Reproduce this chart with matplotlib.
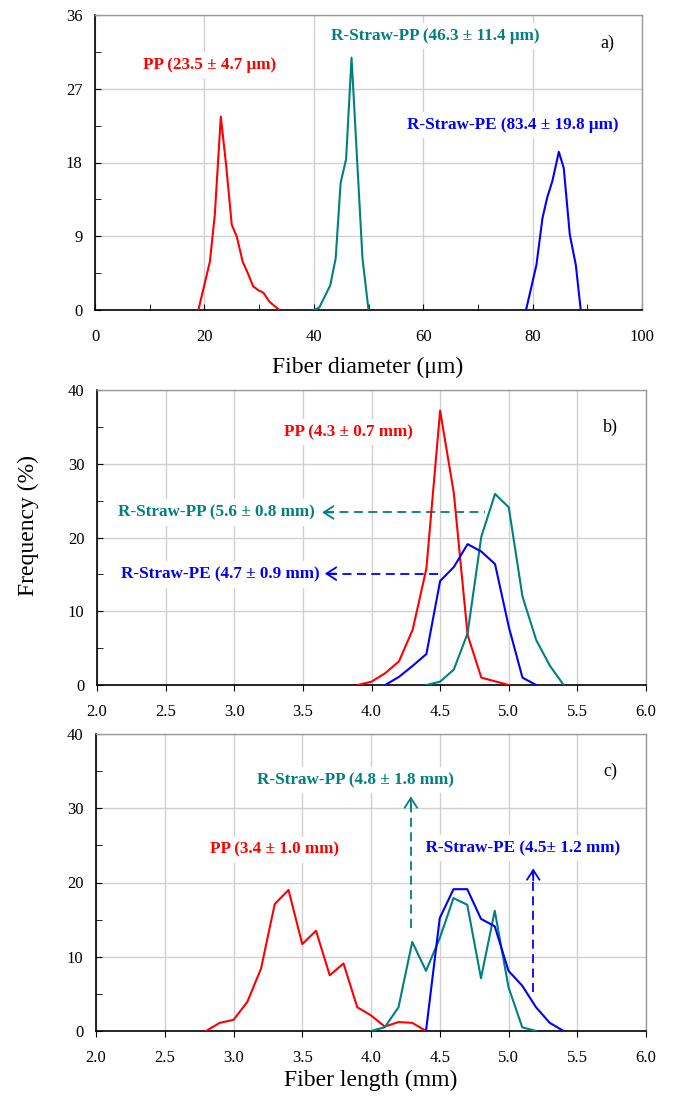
import matplotlib
matplotlib.use("Agg")
import matplotlib.pyplot as plt
from matplotlib.ticker import MultipleLocator

plt.rcParams["font.family"] = ["Liberation Serif", "DejaVu Serif"]

RED = "#ff0000"
TEAL = "#008080"
BLUE = "#0000ff"

# a) fiber diameter (um) vs frequency (%)
a_pp_x = [18.9, 21.0, 21.9, 23.0, 24.0, 25.0, 25.9, 27.0, 28.0, 28.9, 29.9, 30.8, 31.9, 33.7]
a_pp_y = [0, 5.9, 11.6, 23.6, 17.5, 10.4, 9.0, 5.9, 4.4, 2.9, 2.4, 2.1, 1.0, 0]
a_spp_x = [40.0, 41.0, 43.0, 44.0, 44.9, 45.9, 46.9, 48.9, 50.0]
a_spp_y = [0, 0.3, 3.0, 6.3, 15.5, 18.4, 30.8, 6.3, 0]
a_spe_x = [78.8, 80.7, 81.8, 82.7, 83.6, 84.8, 85.7, 86.8, 87.9, 88.8]
a_spe_y = [0, 5.5, 11.2, 13.8, 15.7, 19.3, 17.3, 9.2, 5.5, 0]

# b) fiber length (mm), before processing
b_pp_x = [3.9, 4.0, 4.1, 4.2, 4.3, 4.4, 4.5, 4.6, 4.7, 4.8, 5.0]
b_pp_y = [0, 0.45, 1.6, 3.2, 7.5, 15.8, 37.2, 26.0, 6.8, 1.0, 0]
b_spp_x = [4.4, 4.5, 4.6, 4.7, 4.8, 4.9, 5.0, 5.1, 5.2, 5.3, 5.4]
b_spp_y = [0, 0.45, 2.1, 7.0, 20.1, 25.9, 24.1, 12.0, 6.1, 2.6, 0]
b_spe_x = [4.1, 4.2, 4.3, 4.4, 4.5, 4.6, 4.7, 4.8, 4.9, 5.0, 5.1, 5.2]
b_spe_y = [0, 1.1, 2.6, 4.2, 14.1, 16.0, 19.1, 18.1, 16.4, 7.9, 1.0, 0]

# c) fiber length (mm), after processing
c_pp_x = [2.8, 2.9, 3.0, 3.1, 3.2, 3.3, 3.4, 3.5, 3.6, 3.7, 3.8, 3.9, 4.0, 4.1, 4.2, 4.3, 4.4]
c_pp_y = [0, 1.1, 1.5, 3.9, 8.4, 17.1, 19.0, 11.7, 13.5, 7.5, 9.1, 3.2, 2.1, 0.6, 1.2, 1.1, 0]
c_spp_x = [4.0, 4.1, 4.2, 4.3, 4.4, 4.5, 4.6, 4.7, 4.8, 4.9, 5.0, 5.1, 5.2]
c_spp_y = [0, 0.5, 3.2, 12.0, 8.1, 12.5, 17.9, 17.0, 7.1, 16.2, 5.9, 0.5, 0]
c_spe_x = [4.4, 4.5, 4.6, 4.7, 4.8, 4.9, 5.0, 5.1, 5.2, 5.3, 5.4]
c_spe_y = [0, 15.2, 19.1, 19.1, 15.1, 14.1, 8.1, 6.1, 3.2, 1.1, 0]

W, H = 673, 1108
fig = plt.figure(figsize=(W / 100, H / 100), dpi=100)

TICK_FS = 12
NOTE_FS = 12.3
LABEL_FS = 17


def px_axes(left, top, right, bottom):
    return fig.add_axes([left / W, 1 - bottom / H, (right - left) / W, (bottom - top) / H])


def style(ax, xdir):
    ax.set_axisbelow(True)
    ax.grid(True, which="major", color="#d0d0d0", lw=1.0)
    for s in ("left", "bottom"):
        ax.spines[s].set_color("black")
        ax.spines[s].set_linewidth(1.2)
    for s in ("top", "right"):
        ax.spines[s].set_color("#9a9a9a")
        ax.spines[s].set_linewidth(1.0)
    ax.tick_params(axis="y", which="both", direction="in", length=4, pad=9,
                   labelsize=TICK_FS, right=False)
    ax.tick_params(axis="x", which="both", direction=xdir, length=4,
                   pad=14 if xdir == "in" else 10, labelsize=TICK_FS, top=False)


def note(ax, x, y, s, color, ha="center"):
    ax.text(x, y, s, color=color, fontsize=NOTE_FS, fontweight="bold", ha=ha,
            va="center", zorder=6,
            bbox=dict(boxstyle="square,pad=0.3", fc="white", ec="none"))


def head(ax, tip, tail, color):
    ax.annotate("", xy=tip, xytext=tail, zorder=4,
                arrowprops=dict(arrowstyle="->,head_length=0.7,head_width=0.45",
                                color=color, lw=1.3, shrinkA=0, shrinkB=0,
                                mutation_scale=10))


lw = 1.5
dash = (0, (5, 3))

# panel a
ax = px_axes(95, 15, 642, 310)
style(ax, "in")
ax.plot(a_pp_x, a_pp_y, color=RED, lw=lw, zorder=3)
ax.plot(a_spp_x, a_spp_y, color=TEAL, lw=lw, zorder=3)
ax.plot(a_spe_x, a_spe_y, color=BLUE, lw=lw, zorder=3)
ax.set_xlim(0, 100)
ax.set_ylim(0, 36)
ax.xaxis.set_major_locator(MultipleLocator(20))
ax.xaxis.set_minor_locator(MultipleLocator(10))
ax.yaxis.set_major_locator(MultipleLocator(9))
ax.yaxis.set_minor_locator(MultipleLocator(4.5))
note(ax, 21.0, 29.9, "PP (23.5 ± 4.7 μm)", RED)
note(ax, 62.2, 33.4, "R-Straw-PP (46.3 ± 11.4 μm)", TEAL)
note(ax, 76.3, 22.6, "R-Straw-PE (83.4 ± 19.8 μm)", BLUE)
ax.text(93.7, 32.5, "a)", fontsize=13, ha="center", va="center")

# panel b
ax = px_axes(97, 390, 646, 685)
style(ax, "out")
ax.plot(b_pp_x, b_pp_y, color=RED, lw=lw, zorder=3)
ax.plot(b_spp_x, b_spp_y, color=TEAL, lw=lw, zorder=3)
ax.plot(b_spe_x, b_spe_y, color=BLUE, lw=lw, zorder=3)
ax.set_xlim(2.0, 6.0)
ax.set_ylim(0, 40)
ax.xaxis.set_major_locator(MultipleLocator(0.5))
ax.xaxis.set_major_formatter(lambda v, p: f"{v:.1f}")
ax.yaxis.set_major_locator(MultipleLocator(10))
ax.yaxis.set_minor_locator(MultipleLocator(5))
ax.plot([3.66, 4.83], [23.4, 23.4], color=TEAL, lw=1.3, ls=dash, zorder=2)
head(ax, (3.64, 23.4), (3.72, 23.4), TEAL)
ax.plot([3.68, 4.52], [15.1, 15.1], color=BLUE, lw=1.3, ls=dash, zorder=2)
head(ax, (3.66, 15.1), (3.74, 15.1), BLUE)
note(ax, 3.83, 34.3, "PP (4.3 ± 0.7 mm)", RED)
note(ax, 3.59, 23.4, "R-Straw-PP (5.6 ± 0.8 mm)", TEAL, ha="right")
note(ax, 3.62, 15.0, "R-Straw-PE (4.7 ± 0.9 mm)", BLUE, ha="right")
ax.text(5.74, 34.9, "b)", fontsize=13, ha="center", va="center")

# panel c
ax = px_axes(96, 734, 646, 1031)
style(ax, "out")
ax.plot(c_pp_x, c_pp_y, color=RED, lw=lw, zorder=3)
ax.plot(c_spp_x, c_spp_y, color=TEAL, lw=lw, zorder=3)
ax.plot(c_spe_x, c_spe_y, color=BLUE, lw=lw, zorder=3)
ax.set_xlim(2.0, 6.0)
ax.set_ylim(0, 40)
ax.xaxis.set_major_locator(MultipleLocator(0.5))
ax.xaxis.set_major_formatter(lambda v, p: f"{v:.1f}")
ax.yaxis.set_major_locator(MultipleLocator(10))
ax.yaxis.set_minor_locator(MultipleLocator(5))
ax.plot([4.29, 4.29], [13.9, 31.3], color=TEAL, lw=1.3, ls=dash, zorder=2)
head(ax, (4.29, 31.6), (4.29, 30.0), TEAL)
ax.plot([5.18, 5.18], [5.3, 21.6], color=BLUE, lw=1.3, ls=dash, zorder=2)
head(ax, (5.18, 21.9), (5.18, 20.3), BLUE)
note(ax, 3.885, 33.8, "R-Straw-PP (4.8 ± 1.8 mm)", TEAL)
note(ax, 3.30, 24.4, "PP (3.4 ± 1.0 mm)", RED)
note(ax, 5.81, 24.6, "  R-Straw-PE (4.5± 1.2 mm)", BLUE, ha="right")
ax.text(5.74, 34.95, "c)", fontsize=13, ha="center", va="center")

fig.text(368 / W, 1 - 367 / H, "Fiber diameter (μm)", fontsize=LABEL_FS,
         ha="center", va="center")
fig.text(371 / W, 1 - 1080 / H, "Fiber length (mm)", fontsize=LABEL_FS,
         ha="center", va="center")
fig.text(28 / W, 1 - 525 / H, "Frequency (%)", rotation=90, fontsize=LABEL_FS,
         ha="center", va="center")

fig.savefig("out.png", dpi=100)
